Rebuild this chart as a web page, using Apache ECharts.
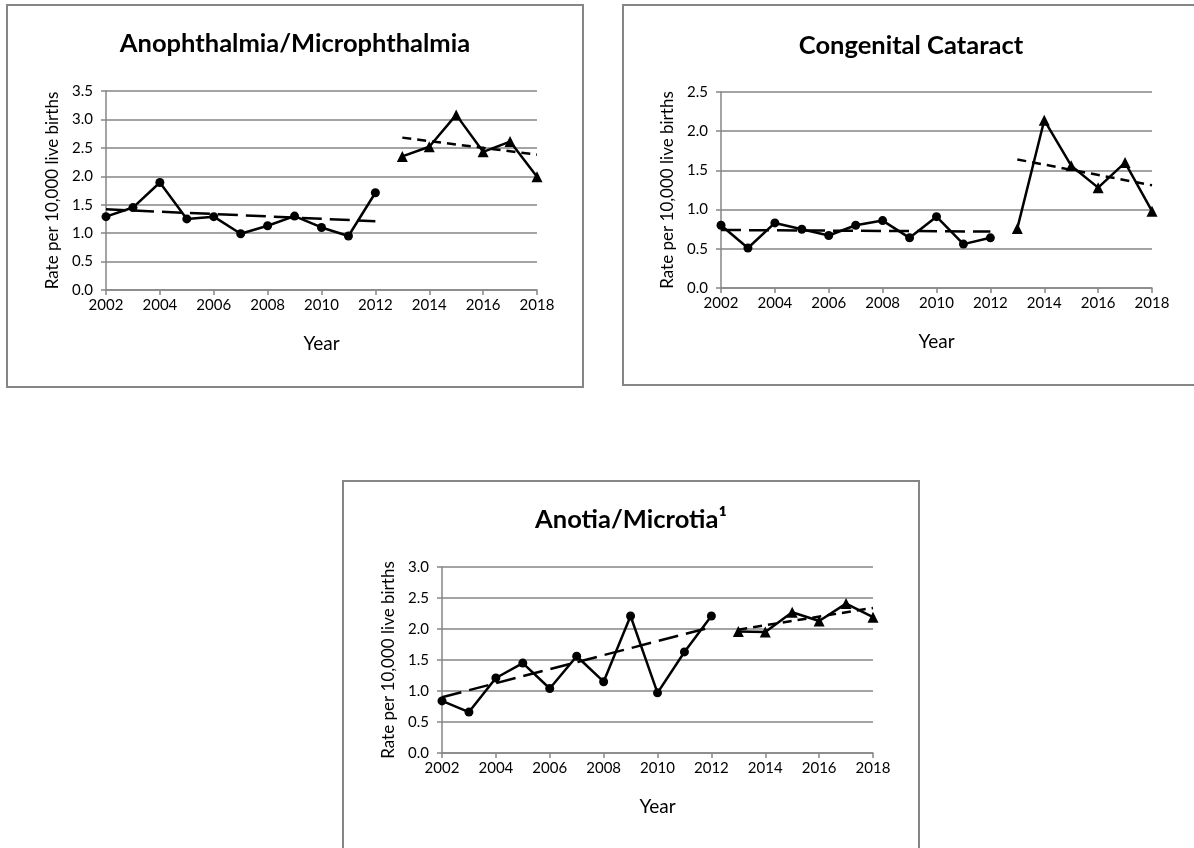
<!DOCTYPE html>
<html>
<head>
<meta charset="utf-8">
<script src="https://cdn.jsdelivr.net/npm/echarts@6/dist/echarts.min.js"></script>
<style>
  html, body { margin: 0; padding: 0; background: #fff; }
  #chart { width: 1194px; height: 848px; }
</style>
</head>
<body>
<div id="chart"></div>
<script>
// Rate per 10,000 live births, two reporting periods per condition
const yearsEarly = [2002, 2003, 2004, 2005, 2006, 2007, 2008, 2009, 2010, 2011, 2012];
const yearsLate = [2013, 2014, 2015, 2016, 2017, 2018];

const anophEarly = [1.29, 1.45, 1.89, 1.25, 1.29, 0.99, 1.13, 1.30, 1.10, 0.95, 1.71];
const anophLate = [2.35, 2.52, 3.08, 2.43, 2.61, 1.99];
const anophTrendEarly = [1.42, 1.21];
const anophTrendLate = [2.68, 2.38];

const cataractEarly = [0.80, 0.51, 0.83, 0.75, 0.67, 0.80, 0.86, 0.64, 0.91, 0.56, 0.64];
const cataractLate = [0.76, 2.14, 1.56, 1.28, 1.60, 0.98];
const cataractTrendEarly = [0.74, 0.72];
const cataractTrendLate = [1.64, 1.31];

const anotiaEarly = [0.84, 0.66, 1.21, 1.45, 1.04, 1.56, 1.15, 2.21, 0.97, 1.63, 2.21];
const anotiaLate = [1.96, 1.95, 2.27, 2.13, 2.41, 2.19];
const anotiaTrendEarly = [0.90, 2.03];
const anotiaTrendLate = [1.99, 2.34];

const titles = ['Anophthalmia/Microphthalmia', 'Congenital Cataract', 'Anotia/Microtia\u00b9'];
const yMax = [3.5, 2.5, 3.0];
const yAxisName = 'Rate per 10,000 live births';
const xAxisName = 'Year';

const FONT = 'Lato, "Open Sans", sans-serif';
const GRAY = '#868686';

// panel frames: box origin and plot area
const panels = [
  { box: [7, 5, 576, 382], grid: { left: 106, top: 91, width: 431, height: 199 }, titleY: 44 },
  { box: [623, 5, 576, 380], grid: { left: 721, top: 92, width: 431, height: 196 }, titleY: 46 },
  { box: [343, 481, 576, 400], grid: { left: 442, top: 567, width: 431, height: 186 }, titleY: 520 }
];

const pairs = (xs, ys) => xs.map((x, i) => [x, ys[i]]);
const ends = (xs, ys) => [[xs[0], ys[0]], [xs[xs.length - 1], ys[1]]];

const panelData = [
  [anophEarly, anophLate, anophTrendEarly, anophTrendLate],
  [cataractEarly, cataractLate, cataractTrendEarly, cataractTrendLate],
  [anotiaEarly, anotiaLate, anotiaTrendEarly, anotiaTrendLate]
];

const grid = [], xAxis = [], yAxis = [], series = [], graphic = [];

panels.forEach((p, i) => {
  grid.push(Object.assign({ containLabel: false }, p.grid));
  xAxis.push({
    type: 'value', gridIndex: i, min: 2002, max: 2018, interval: 2,
    name: xAxisName, nameLocation: 'middle', nameGap: 44,
    nameTextStyle: { fontFamily: FONT, fontSize: 19, color: '#000' },
    axisLine: { show: true, onZero: false, lineStyle: { color: GRAY, width: 1.5 } },
    axisTick: { show: true, length: 5, lineStyle: { color: GRAY, width: 1.5 } },
    axisLabel: { fontFamily: FONT, fontSize: 15, color: '#000', margin: 8, formatter: v => String(v) },
    splitLine: { show: false }
  });
  yAxis.push({
    type: 'value', gridIndex: i, min: 0, max: yMax[i], interval: 0.5,
    name: yAxisName, nameLocation: 'middle', nameGap: 45, nameRotate: 90,
    nameTextStyle: { fontFamily: FONT, fontSize: 17, color: '#000' },
    axisLine: { show: true, lineStyle: { color: GRAY, width: 1.5 } },
    axisTick: { show: true, length: 5, lineStyle: { color: GRAY, width: 1.5 } },
    axisLabel: { fontFamily: FONT, fontSize: 15, color: '#000', margin: 13, formatter: v => v.toFixed(1) },
    splitLine: { show: true, lineStyle: { color: GRAY, width: 1.5 } }
  });

  const [early, late, trendEarly, trendLate] = panelData[i];
  series.push({
    type: 'line', xAxisIndex: i, yAxisIndex: i, data: pairs(yearsEarly, early),
    symbol: 'circle', symbolSize: 9, itemStyle: { color: '#000' },
    lineStyle: { color: '#000', width: 2.5 }, animation: false, z: 3
  });
  series.push({
    type: 'line', xAxisIndex: i, yAxisIndex: i, data: pairs(yearsLate, late),
    symbol: 'triangle', symbolSize: 11, itemStyle: { color: '#000' },
    lineStyle: { color: '#000', width: 2.5 }, animation: false, z: 3
  });
  series.push({
    type: 'line', xAxisIndex: i, yAxisIndex: i, data: ends(yearsEarly, trendEarly),
    symbol: 'none', lineStyle: { color: '#000', width: 2.5, type: [20, 8] },
    animation: false, z: 4
  });
  series.push({
    type: 'line', xAxisIndex: i, yAxisIndex: i, data: ends(yearsLate, trendLate),
    symbol: 'none', lineStyle: { color: '#000', width: 2.5, type: [9, 6] },
    animation: false, z: 4
  });

  const [bx, by, bw, bh] = p.box;
  graphic.push({
    type: 'rect', silent: true, z: 0,
    shape: { x: bx, y: by, width: bw, height: bh },
    style: { fill: 'none', stroke: GRAY, lineWidth: 2 }
  });
  graphic.push({
    type: 'text', silent: true, z: 10,
    style: {
      text: titles[i], x: bx + bw / 2, y: p.titleY,
      align: 'center', verticalAlign: 'middle',
      textAlign: 'center', textVerticalAlign: 'middle',
      font: 'bold 25.5px ' + FONT, fill: '#000'
    }
  });
});

const chart = echarts.init(document.getElementById('chart'), null, { renderer: 'canvas' });
chart.setOption({
  backgroundColor: '#fff',
  animation: false,
  grid, xAxis, yAxis, series, graphic
});
</script>
</body>
</html>
